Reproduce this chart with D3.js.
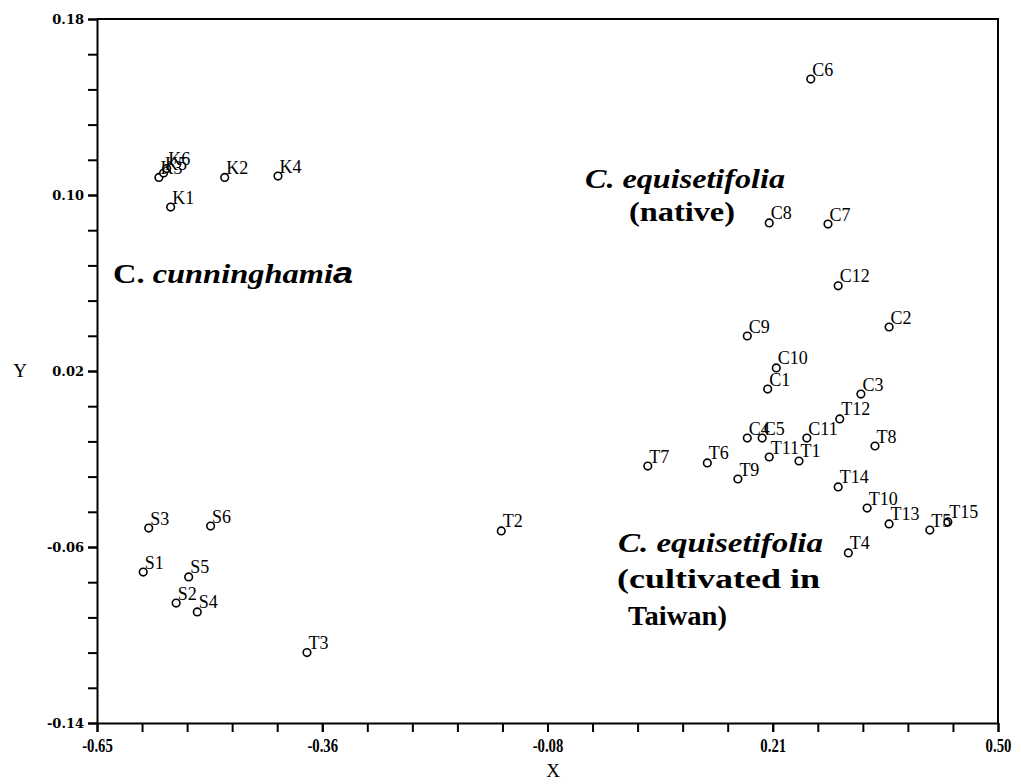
<!DOCTYPE html>
<html>
<head>
<meta charset="utf-8">
<script src="https://cdn.jsdelivr.net/npm/d3@7"></script>
<style>
  html, body { margin: 0; padding: 0; background: #fff; }
  svg { display: block; }
</style>
</head>
<body>
<div id="chart"></div>
<script>
// ---- data ----
const sampleLabels = ["K1","K2","K3","K4","K5","K6",
  "S1","S2","S3","S4","S5","S6",
  "C1","C2","C3","C4","C5","C6","C7","C8","C9","C10","C11","C12",
  "T1","T2","T3","T4","T5","T6","T7","T8","T9","T10","T11","T12","T13","T14","T15"];
const xValues = [-0.556,-0.487,-0.571,-0.419,-0.565,-0.561,
  -0.591,-0.549,-0.584,-0.522,-0.533,-0.505,
  0.206,0.361,0.325,0.180,0.199,0.261,0.283,0.208,0.180,0.217,0.256,0.296,
  0.246,-0.134,-0.382,0.309,0.413,0.129,0.053,0.343,0.168,0.333,0.208,0.298,0.361,0.296,0.436];
const yValues = [0.0945,0.108,0.108,0.1086,0.110,0.112,
  -0.0714,-0.0855,-0.0514,-0.0895,-0.0736,-0.0505,
  0.0118,0.040,0.0095,-0.0105,-0.0105,0.1527,0.0868,0.0873,0.0359,0.0214,-0.0105,0.0587,
  -0.0209,-0.0527,-0.108,-0.0627,-0.0523,-0.0218,-0.0232,-0.0141,-0.0291,-0.0423,-0.0191,-0.0018,-0.0495,-0.0327,-0.0486];
const xTickValues = [-0.65,-0.3625,-0.075,0.2125,0.50];
const xTickLabels = ["-0.65","-0.36","-0.08","0.21","0.50"];
const yTickValues = [-0.14,-0.06,0.02,0.10,0.18];
const yTickLabels = ["-0.14","-0.06","0.02","0.10","0.18"];
const xDomain = [-0.65, 0.50];
const yDomain = [-0.14, 0.18];

// ---- layout ----
const W = 1021, H = 784;
const L = 97, R = 998, T = 19, B = 723;
const SERIF = "Liberation Serif, DejaVu Serif, serif";

const svg = d3.select("#chart").append("svg").attr("width", W).attr("height", H);
const x = d3.scaleLinear().domain(xDomain).range([L, R]);
const y = d3.scaleLinear().domain(yDomain).range([B, T]);

// frame (top and right)
svg.append("path")
  .attr("d", `M${L},${T}H${R}V${B}`)
  .attr("fill", "none").attr("stroke", "#000").attr("stroke-width", 2);

const xMinor = d3.range(0, 21).map(i => xDomain[0] + i * (xDomain[1]-xDomain[0]) / 20);
const yMinor = d3.range(0, 21).map(i => yDomain[0] + i * (yDomain[1]-yDomain[0]) / 20);

// X axis
const gx = svg.append("g").attr("transform", `translate(0,${B})`);
gx.call(d3.axisBottom(x).tickValues(xMinor).tickFormat("").tickSize(9).tickSizeOuter(0));
const gx2 = svg.append("g").attr("transform", `translate(0,${B})`);
gx2.call(d3.axisBottom(x).tickValues(xTickValues)
  .tickFormat((d,i) => xTickLabels[i]).tickSize(9).tickSizeOuter(0).tickPadding(5));
gx2.select(".domain").remove();
gx2.selectAll(".tick text")
  .attr("font-family", SERIF).attr("font-weight", "bold")
  .attr("font-size", 18).attr("fill", "#000")
  .attr("transform", "scale(0.82,1.08)");

// Y axis
const gy = svg.append("g").attr("transform", `translate(${L},0)`);
gy.call(d3.axisLeft(y).tickValues(yMinor).tickFormat("").tickSize(9).tickSizeOuter(0));
const gy2 = svg.append("g").attr("transform", `translate(${L},0)`);
gy2.call(d3.axisLeft(y).tickValues(yTickValues)
  .tickFormat((d,i) => yTickLabels[i]).tickSize(9).tickSizeOuter(0).tickPadding(4));
gy2.select(".domain").remove();
gy2.selectAll(".tick text")
  .attr("font-family", "DejaVu Serif, serif")
  .attr("font-weight", "bold").attr("font-size", 13).attr("fill", "#000");

svg.selectAll(".domain").attr("stroke-width", 2);
svg.selectAll(".tick line").attr("stroke-width", 2);

// axis titles
svg.append("text").text("X").attr("x", 553).attr("y", 777)
  .attr("text-anchor", "middle")
  .attr("font-family", SERIF).attr("font-size", 19);
svg.append("text").text("Y").attr("x", 20).attr("y", 377)
  .attr("text-anchor", "middle")
  .attr("font-family", SERIF).attr("font-size", 19);

// points
const pts = sampleLabels.map((s,i) => ({label: s, x: xValues[i], y: yValues[i]}));
const g = svg.append("g");
g.selectAll("circle").data(pts).enter().append("circle")
  .attr("cx", d => x(d.x)).attr("cy", d => y(d.y)).attr("r", 3.8)
  .attr("fill", "#fff").attr("stroke", "#000").attr("stroke-width", 1.6);
g.selectAll("text").data(pts).enter().append("text")
  .attr("x", d => x(d.x) + 1.5).attr("y", d => y(d.y) - 3.5)
  .attr("font-family", SERIF)
  .attr("font-size", 18).attr("fill", "#000")
  .text(d => d.label);

// annotations
function ann(xp, yp, parts, len) {
  const t = svg.append("text").attr("x", xp).attr("y", yp)
    .attr("font-family", SERIF).attr("font-weight", "bold").attr("font-size", 27)
    .attr("fill", "#000");
  parts.forEach(p => {
    const ts = t.append("tspan").text(p.t);
    if (p.i) ts.attr("font-style", "italic");
    if (p.f) ts.attr("font-family", p.f);
    if (p.s) ts.attr("font-size", p.s);
  });
  if (len) t.attr("textLength", len).attr("lengthAdjust", "spacingAndGlyphs");
  return t;
}
ann(585, 188, [{t:"C. equisetifolia", i:true}], 200);
ann(629, 221, [{t:"(native)"}], 106);
ann(113, 283, [{t:"C. "}, {t:"cunninghami", i:true}, {t:"a", i:true, f:"Liberation Sans, Arial, sans-serif", s:30}], 240);
ann(618, 552, [{t:"C. equisetifolia", i:true}], 205);
ann(617, 588, [{t:"(cultivated in"}], 203);
ann(628, 625, [{t:"Taiwan)"}], 99);
</script>
</body>
</html>
